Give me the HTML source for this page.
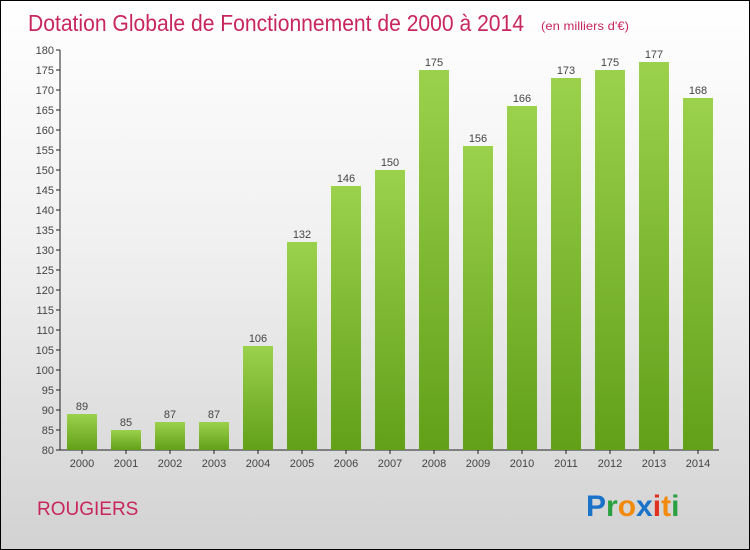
<!DOCTYPE html>
<html><head><meta charset="utf-8"><style>
body{margin:0}
#c{position:relative;width:748px;height:548px;border:1px solid #000;background:linear-gradient(#ffffff 0%,#f0f0f0 45%,#d2d2d2 100%);font-family:"Liberation Sans",sans-serif;overflow:hidden}
</style></head><body>
<div id="c">
<svg width="748" height="548" style="position:absolute;left:0;top:0">
<defs><linearGradient id="g" x1="0" y1="0" x2="0" y2="1"><stop offset="0" stop-color="#9bd14d"/><stop offset="1" stop-color="#62a01a"/></linearGradient></defs>
<text x="27" y="30" font-size="23" fill="#c8265e" textLength="496" lengthAdjust="spacingAndGlyphs">Dotation Globale de Fonctionnement de 2000 à 2014</text>
<text x="540" y="29" font-size="12" fill="#c8265e" textLength="88" lengthAdjust="spacingAndGlyphs">(en milliers d'€)</text>
<g id="ax"></g>
<g id="bars"></g>
<text x="36" y="514" font-size="19" fill="#c8265e">ROUGIERS</text>
<text x="585" y="515" font-size="30" font-weight="bold"><tspan fill="#1a73c8">P</tspan><tspan fill="#2aa040">r</tspan><tspan fill="#f28a10">o</tspan><tspan fill="#1a73c8">x</tspan><tspan fill="#e03020">i</tspan><tspan fill="#f28a10">t</tspan><tspan fill="#2aa040">i</tspan></text>
</svg>
</div>
<script>
const years=["2000","2001","2002","2003","2004","2005","2006","2007","2008","2009","2010","2011","2012","2013","2014"];
const values=[89,85,87,87,106,132,146,150,175,156,166,173,175,177,168];
const yTicks=[80,85,90,95,100,105,110,115,120,125,130,135,140,145,150,155,160,165,170,175,180];
const NS="http://www.w3.org/2000/svg";
const y=v=>449-(v-80)*4;
const x=i=>81+i*44;
function mk(t,a,p){const e=document.createElementNS(NS,t);for(const k in a)e.setAttribute(k,a[k]);p.appendChild(e);return e;}
const ax=document.getElementById('ax'),bg=document.getElementById('bars');
let l=mk('line',{x1:59,y1:49,x2:59,y2:449,stroke:'#222'},ax);


l=mk('line',{x1:59,y1:449,x2:718,y2:449,stroke:'#222'},ax);


yTicks.forEach(v=>{
 mk('line',{x1:55,y1:y(v),x2:59,y2:y(v),stroke:'#222'},ax);
 const t=mk('text',{x:53,y:y(v)+4,'text-anchor':'end','font-size':11,fill:'#444'},ax);t.textContent=v;
 
 
});
years.forEach((yr,i)=>{
 const r=mk('rect',{x:x(i)-15,y:y(values[i]),width:30,height:449-y(values[i]),fill:'url(#g)'},bg);
 
 
 const t=mk('text',{x:x(i),y:y(values[i])-4,'text-anchor':'middle','font-size':11,fill:'#444'},bg);t.textContent=values[i];
 
 
 mk('line',{x1:x(i),y1:449,x2:x(i),y2:453,stroke:'#222'},ax);
 const u=mk('text',{x:x(i),y:466,'text-anchor':'middle','font-size':11,fill:'#444'},ax);u.textContent=yr;
 
 
});
</script>
</body></html>
